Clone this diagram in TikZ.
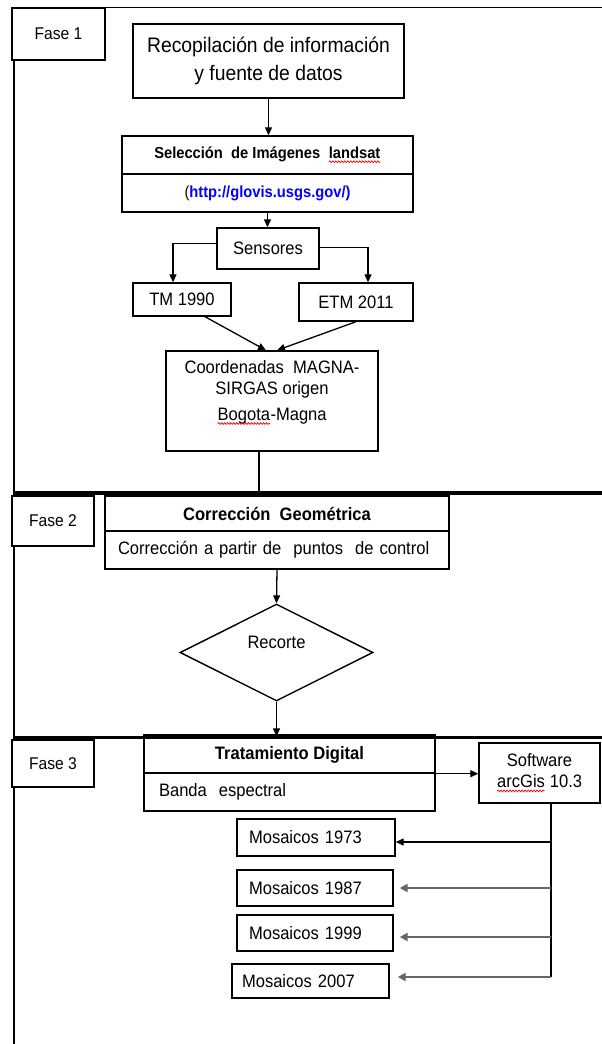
\documentclass[tikz,border=0pt]{standalone}
\usepackage{fontspec}
\setmainfont{Liberation Sans}[FakeStretch=0.92]
\usetikzlibrary{arrows.meta,shapes.geometric,decorations.pathmorphing}
\newcommand\redwave[1]{\tikz[baseline=(w.base),x=1pt,y=1pt]{\node[inner sep=0pt,outer sep=0pt,draw=none,fill=none,minimum size=0pt] (w) {#1};\draw[red,line width=0.7pt,decorate,decoration={snake,amplitude=0.9pt,segment length=3pt}] ([yshift=-3pt]w.base west) -- ([yshift=-3pt]w.base east);}}
\newcommand\tsz[1]{\fontsize{#1}{21}\selectfont}
\begin{document}
\begin{tikzpicture}[x=1pt,y=-1pt,
  bx/.style={draw, line width=1.4pt, fill=white, inner sep=0pt, align=center, font=\tsz{18}},
  lbx/.style={bx, align=left},
  arr/.style={line width=1.3pt, -{Triangle[length=8pt,width=7pt]}},
  garr/.style={line width=2pt, draw=black!60, -{Triangle[length=8pt,width=8pt]}},
  ln/.style={line width=1.3pt},
  phase/.style={line width=3.5pt}]
\useasboundingbox (0,0) rectangle (602,1044);

% frame
\draw[line width=1.6pt] (12,7.5) -- (602,7.5);
\draw[ln] (14,8) -- (14,1044);
\draw[phase] (14,493) -- (602,493);
\draw[line width=3pt] (14,737.5) -- (602,737.5);

% phase labels
\node[bx, minimum width=93pt, minimum height=52pt, font=\tsz{17}] (f1) at (58.5,34) {Fase 1};
\node[bx, minimum width=82pt, minimum height=50pt, font=\tsz{17}] (f2) at (53,521) {Fase 2};
\node[bx, minimum width=82pt, minimum height=47pt, font=\tsz{17}] (f3) at (53,763.5) {Fase 3};

% phase 1
\node[bx, minimum width=271pt, minimum height=74pt, font=\fontsize{21}{28}\selectfont] (rec) at (268.5,61) {Recopilación de información\\y fuente de datos};
\node[bx, minimum width=291pt, minimum height=38pt, font=\tsz{16}\bfseries] (sel1) at (267.5,155) {Selección\ \ de Imágenes\ \ \redwave{landsat}};
\node[bx, minimum width=291pt, minimum height=38pt, font=\tsz{16}] (sel2) at (267.5,193) {(\textcolor{blue}{\bfseries http://glovis.usgs.gov/)}};
\node[bx, minimum width=102pt, minimum height=41pt] (sens) at (268,248.5) {Sensores};
\node[bx, minimum width=98pt, minimum height=33pt] (tm) at (182,299.5) {TM 1990};
\node[bx, minimum width=114pt, minimum height=38pt] (etm) at (356,302) {ETM 2011};
\node[bx, minimum width=212pt, minimum height=100pt] (coord) at (272,401) {Coordenadas\ \ MAGNA-\\SIRGAS origen\\[5pt]\redwave{Bogota}-Magna\\\mbox{}};

\draw[arr] (rec.south) -- (rec.south |- sel1.north);
\draw[arr] (sel2.south) -- (sel2.south |- sens.north);
\draw[arr] ([yshift=5pt]sens.west) -| ([xshift=-9pt]tm.north);
\draw[arr] ([yshift=1pt]sens.east) -| ([xshift=12pt]etm.north);
\draw[arr] ([xshift=23pt]tm.south) -- ([xshift=-6pt]coord.north);
\draw[arr] (etm.south) -- ([xshift=5pt]coord.north);

% phase 2
\node[bx, minimum width=344pt, minimum height=35pt, font=\tsz{18}\bfseries] (cor1) at (277,513.5) {Corrección\ \ Geométrica};
\node[lbx, minimum width=344pt, minimum height=38pt, inner xsep=13pt, text width=318pt] (cor2) at (277,550) {Corrección a partir de\ \ puntos\ \ de control};
\node[draw, diamond, line width=1.4pt, fill=white, inner sep=0pt, minimum width=193pt, minimum height=97pt, font=\tsz{18}] (dia) at (276.5,652.5) {\raisebox{20pt}{Recorte}};

\draw[ln] ([xshift=-13pt]coord.south) -- ([xshift=-13pt]coord.south |- cor1.north);
\draw[arr] (cor2.south) -- (dia.north);

% phase 3
\node[bx, minimum width=291pt, minimum height=36pt, font=\tsz{18}\bfseries] (tra1) at (289.5,755) {Tratamiento Digital};
\node[lbx, minimum width=291pt, minimum height=38pt, inner xsep=15pt, text width=261pt] (tra2) at (289.5,792) {Banda\ \ espectral};
\draw[line width=5pt] (tra1.north west) -- (tra1.north east);
\draw[arr] (dia.south) -- (dia.south |- tra1.north);

\node[bx, minimum width=121pt, minimum height=60pt] (soft) at (539.5,773) {Software\\\redwave{arcGis} 10.3};
\draw[arr] (tra1.south east) -- (tra1.south east -| soft.west);

\node[lbx, minimum width=158pt, minimum height=37pt, inner xsep=12pt, text width=134pt] (m1) at (316,837.5) {Mosaicos 1973};
\node[lbx, minimum width=156pt, minimum height=36pt, inner xsep=12pt, text width=132pt] (m2) at (315,888) {Mosaicos 1987};
\node[lbx, minimum width=156pt, minimum height=36pt, inner xsep=12pt, text width=132pt] (m3) at (315,933) {Mosaicos 1999};
\node[lbx, minimum width=157pt, minimum height=34pt, inner xsep=10pt, text width=137pt] (m4) at (310.5,981) {Mosaicos 2007};

\coordinate (bus) at (551,977);
\draw[ln] (soft.south -| bus) -- (bus);
\draw[arr] ([yshift=-4.5pt]m1.east -| bus) -- ([yshift=-4.5pt]m1.east);
\draw[garr] (m2.east -| bus) -- ([xshift=6pt]m2.east);
\draw[garr] ([yshift=-4pt]m3.east -| bus) -- ([yshift=-4pt,xshift=6pt]m3.east);
\draw[garr] ([yshift=4pt]m4.east -| bus) -- ([yshift=4pt,xshift=8pt]m4.east);
\end{tikzpicture}
\end{document}
